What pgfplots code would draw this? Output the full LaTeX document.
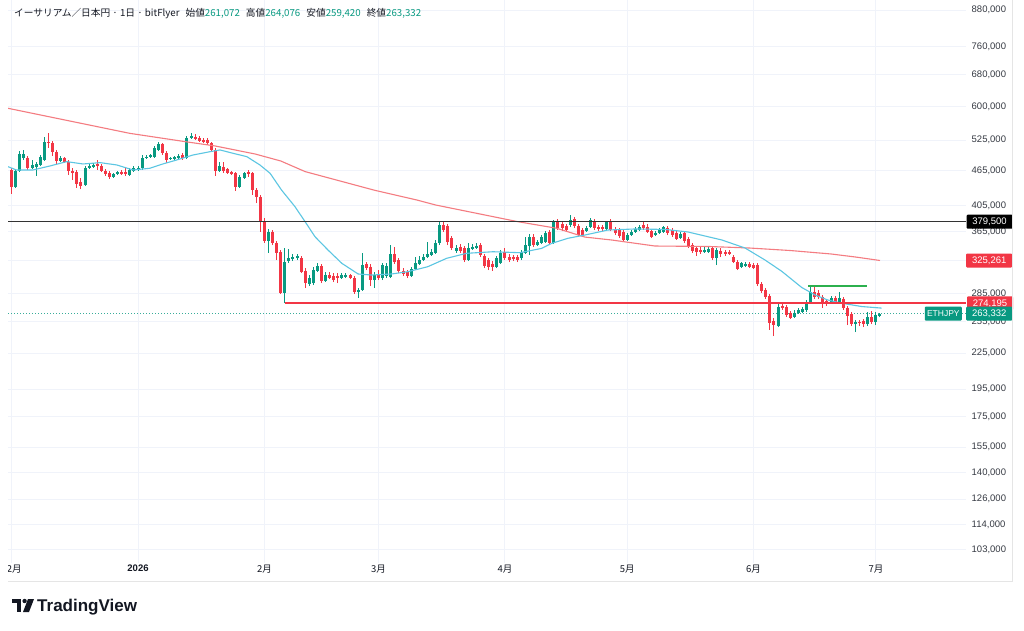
\documentclass[border=0pt]{standalone}
\usepackage{fontspec}
\setmainfont{Liberation Sans}
\newfontfamily\jp{Noto Sans CJK JP}
\usepackage{pgfplots}
\usepackage{pgfplotstable}
\pgfplotsset{compat=1.18}

\definecolor{tvgreen}{HTML}{089981}
\definecolor{tvred}{HTML}{F23645}
\definecolor{tvtext}{HTML}{131722}
\definecolor{tvgrid}{HTML}{F0F3FA}
\definecolor{maslow}{HTML}{F47C81}
\definecolor{mafast}{HTML}{5CC6E2}
\definecolor{lvgreen}{HTML}{2CB04E}
\newcommand\ticksz{\fontsize{9.5}{11}\selectfont}

% daily ETH/JPY candles; d = days from 1 Jan 2026
\pgfplotstableread{
d o h l c
-31 466000 469700 423700 435600
-30 435600 467900 433900 464200
-29 464200 502600 462300 496600
-28 488800 504600 484900 496600
-27 488800 492700 466000 469700
-26 469700 484900 467900 475400
-25 471600 481100 455100 477300
-24 475400 494600 473500 490700
-23 484900 531400 483000 520900
-22 520900 539800 508600 518800
-21 518800 523000 492700 500600
-20 500600 504600 477300 483000
-19 483000 492700 481100 488800
-18 488800 490700 479200 481100
-17 481100 484900 456900 464200
-16 464200 469700 447900 460500
-15 462300 466000 433900 440900
-14 444400 451500 432100 437300
-13 439000 473500 437300 469700
-12 469700 477300 467900 473500
-11 471600 479200 469700 475400
-10 477300 484900 466000 473500
-9 473500 477300 462300 464200
-8 464200 467900 455100 458700
-7 460500 464200 449700 453300
-6 453300 460500 451500 458700
-5 458700 464200 456900 462300
-4 462300 466000 456900 458700
-3 462300 469700 455100 458700
-2 456900 469700 455100 466000
-1 464200 473500 462300 469700
0 466000 473500 464200 469700
1 469700 494600 466000 488800
2 488800 494600 486800 490700
3 490700 496600 488800 494600
4 490700 512700 488800 508600
5 504600 520900 502600 516800
6 516800 518800 494600 498600
7 498600 502600 479200 484900
8 486800 490700 484900 488800
9 486800 492700 484900 489800
10 488800 496600 486800 492700
11 494600 498600 484900 488800
12 488800 533500 486800 529300
13 529300 539800 527200 533500
14 531400 537700 525000 527200
15 529300 533500 520900 523000
16 525000 529300 518800 520900
17 525000 529300 514700 518800
18 518800 520900 500600 504600
19 504600 508600 455100 464200
20 464200 481100 462300 473500
21 471600 481100 460500 464200
22 467900 469700 458700 460500
23 462300 464200 456900 458700
24 460500 462300 428700 435600
25 435600 456900 433900 453300
26 451500 462300 449700 460500
27 462300 466000 453300 458700
28 460500 462300 422000 430400
29 430400 433900 408700 418700
30 418700 422000 364300 379000
31 380500 385100 348700 351500
32 351500 368700 335100 364300
33 364300 367200 345900 348700
34 348700 351500 325900 335100
35 336400 339100 284800 285900
36 285900 341800 274195 323300
37 324600 340500 322000 328500
38 327200 333800 324600 329800
39 328500 333800 325900 330500
40 328500 331200 309500 310700
41 312000 315700 291600 297400
42 296300 307000 293900 303400
43 297400 317000 295100 313200
44 312000 322000 310700 318200
45 318200 320800 297400 299800
46 299800 310700 298600 307000
47 307000 310700 302200 304000
48 305800 309500 298600 301000
49 305800 309500 297400 303400
50 303400 309500 302200 307000
51 304600 309500 303400 307000
52 307000 308300 302200 303400
53 303400 305800 284800 287000
54 287000 291600 280300 289300
55 289300 335100 288200 319500
56 320800 323300 313200 315700
57 317000 320800 293900 301000
58 301000 310700 291600 307000
59 307000 313200 301000 303400
60 303400 322000 301000 319500
61 305800 322000 303400 318200
62 304600 345900 303400 333800
63 333800 343200 320800 323300
64 325900 328500 309500 312000
65 312000 315700 305800 308300
66 310700 313200 303400 305800
67 305800 317000 304600 314500
68 314500 329800 313200 322000
69 320800 331200 319500 325900
70 325900 333800 324600 329800
71 329800 350100 328500 333800
72 332500 340500 331200 336400
73 335100 352900 333800 348700
74 348700 379500 345900 374600
75 374600 379000 364300 367200
76 373100 376000 345900 350100
77 355700 358500 339100 341800
78 337800 345900 335100 341800
79 343200 347300 335100 337800
80 341800 344500 323300 325900
81 325900 348700 324600 341800
82 340500 347300 339100 343200
83 341800 348700 340500 344500
84 345900 348700 329800 332500
85 331200 333800 315700 318200
86 325900 328500 313200 317000
87 320800 324600 312000 317000
88 317000 331200 315700 328500
89 322000 339100 320800 335100
90 336400 341800 325900 328500
91 329800 333800 323300 325900
92 329800 332500 324600 327200
93 329800 332500 323300 325900
94 328500 339100 325900 336400
95 335100 357100 333800 345900
96 344500 361400 332500 357100
97 357100 361400 343200 345900
98 345900 352900 344500 350100
99 348700 359900 347300 357100
100 350100 365700 348700 362900
101 364300 367200 345900 348700
102 348700 382100 347300 379000
103 379000 383500 367200 370100
104 376000 379000 365700 370100
105 373100 376000 364300 367200
106 374600 389700 371600 382100
107 383500 386600 370100 373100
108 373100 376000 357100 359900
109 367200 370100 357100 359900
110 365700 373100 364300 370100
111 371600 385100 370100 382100
112 380500 383500 367200 370100
113 371600 374600 365700 368700
114 371600 374600 365700 368700
115 368700 380500 367200 379000
116 379000 383500 365700 367200
117 368700 371600 359900 362900
118 367200 370100 355700 358500
119 364300 367200 350100 352900
120 352900 362900 351500 359900
121 359900 367200 358500 364300
122 364300 371600 362900 368700
123 367200 374600 365700 371600
124 374600 379000 367200 370100
125 371600 376000 362900 364300
126 365700 368700 355700 357100
127 359900 365700 358500 362900
128 362900 370100 361400 367200
129 364300 373100 362900 371600
130 370100 373100 359900 362900
131 367200 370100 357100 359900
132 362900 365700 352900 354300
133 355700 364300 354300 361400
134 362900 365700 348700 351500
135 354300 357100 341800 344500
136 345900 348700 335100 337800
137 341800 344500 331200 336400
138 339100 343200 333800 336400
139 336400 343200 335100 339100
140 336400 343200 335100 340500
141 341800 344500 325900 328500
142 328500 341800 319500 339100
143 337800 341800 329800 333800
144 336400 339100 331200 333800
145 336400 339100 332500 333800
146 329800 332500 322000 323300
147 323300 325900 313200 314500
148 317000 323300 315700 322000
149 318200 323300 317000 320800
150 320800 323300 315700 317000
151 319500 322000 314500 315700
152 319500 322000 293900 296300
153 296300 298600 285900 288200
154 289300 291600 279200 281400
155 282500 284800 246800 253700
156 255800 258800 240900 251700
157 250700 273700 249700 270400
158 271500 273700 267200 269400
159 270400 272600 259900 261900
160 264100 266200 257800 258800
161 259900 267200 258800 264100
162 264100 269400 263000 267200
163 265600 270400 264100 268300
164 267200 278000 265100 275900
165 274800 293900 273700 287000
166 287000 293900 279200 281400
167 285900 289300 279200 281400
168 281400 283600 269400 274800
169 276900 279200 271500 273700
170 275900 282500 274800 280300
171 280300 282500 274800 275900
172 274800 287000 273700 280300
173 279200 281400 267200 269400
174 269400 271500 251700 260900
175 263000 265100 250700 252700
176 252700 256800 244800 254700
177 254700 256800 250700 253700
178 255800 257800 249700 252700
179 252700 265100 250700 259900
180 259900 266200 252700 254700
181 254700 265100 251700 261900
182 261072 264076 259420 263332
}\ohlc

\tikzset{tag/.style={anchor=west, minimum width=46pt, minimum height=14pt,
  inner sep=0pt, text=white, font=\ticksz, rounded corners=1pt}}

\begin{document}
\begin{tikzpicture}
\fill[white] (0pt,0pt) rectangle (1024pt,630pt);
\path[use as bounding box] (0pt,0pt) rectangle (1024pt,630pt);

\begin{scope}
\clip (8pt,0pt) rectangle (1024pt,630pt);
\begin{axis}[
  at={(8pt,67pt)}, anchor=south west,
  width=958pt, height=563pt, scale only axis,
  xmin=-31.89, xmax=203.1,
  ymode=log, ymin=97800, ymax=915700,
  clip=false,
  axis line style={draw=none},
  tick style={draw=none},
  major tick length=0pt,
  yminorticks=false, xminorticks=false,
  grid=major,
  major grid style={draw=tvgrid, line width=0.9pt},
  ytick={103000,114000,126000,140000,155000,175000,195000,225000,255000,285000,325000,365000,405000,465000,525000,600000,680000,760000,880000},
  yticklabels={{103,000},{114,000},{126,000},{140,000},{155,000},{175,000},{195,000},{225,000},{255,000},{285,000},{325,000},{365,000},{405,000},{465,000},{525,000},{600,000},{680,000},{760,000},{880,000}},
  yticklabel pos=right,
  yticklabel style={anchor=west, inner sep=0pt, xshift=5.5pt, font=\ticksz, text=tvtext!85},
  xtick={-31,0,31,59,90,120,151,181},
  xticklabels={{\jp 12月},{\bfseries 2026},{\jp 2月},{\jp 3月},{\jp 4月},{\jp 5月},{\jp 6月},{\jp 7月}},
  xticklabel style={anchor=north, inner sep=0pt, yshift=-2pt, font=\ticksz, text=tvtext},
]
% last price, dotted
\addplot[tvgreen!80, line width=0.8pt, dash pattern=on 1pt off 2pt, forget plot]
  coordinates {(-31.89,263332) (203.1,263332)};

% candles: wick low-high, body open-close
\pgfplotstablegetrowsof{\ohlc}
\pgfmathtruncatemacro{\lastrow}{\pgfplotsretval-1}
\pgfplotsforeachungrouped \i in {0,...,\lastrow}{%
  \pgfplotstablegetelem{\i}{d}\of\ohlc \let\cd\pgfplotsretval
  \pgfplotstablegetelem{\i}{o}\of\ohlc \let\co\pgfplotsretval
  \pgfplotstablegetelem{\i}{h}\of\ohlc \let\ch\pgfplotsretval
  \pgfplotstablegetelem{\i}{l}\of\ohlc \let\cl\pgfplotsretval
  \pgfplotstablegetelem{\i}{c}\of\ohlc \let\cc\pgfplotsretval
  \ifnum\cc<\co\relax \def\cf{tvred}\else \def\cf{tvgreen}\fi
  \edef\candle{%
    \noexpand\addplot[\cf, line width=1pt, forget plot] coordinates {(\cd,\cl) (\cd,\ch)};
    \noexpand\addplot[\cf, line width=3pt, forget plot] coordinates {(\cd,\co) (\cd,\cc)};
  }\candle
}

% slow moving average
\addplot[maslow, line width=1.1pt, forget plot] coordinates {
(-31.9,595500) (-2,539000) (12,521000) (18.9,512700) (28.7,496600) (35,483000)
(41,463000) (58,430000) (68.4,413600) (73,405500) (93.2,379500) (102.7,369700)
(109.6,357000) (116.3,352800) (126.8,344500) (140,343900) (150,341800)
(160,338400) (170,333800) (176,329800) (182,325261)};

% fast moving average
\addplot[mafast, line width=1.1pt, forget plot] coordinates {
(-31.9,472200) (-29.8,466000) (-25.8,466000) (-21.6,473500) (-17.5,481700)
(-13.5,477300) (-9.3,479800) (-5.2,475400) (-1.2,466000) (2.9,469200)
(6.1,477300) (9.5,484900) (13.5,494600) (17.7,501200) (20.1,504600)
(23.3,498000) (26.7,491300) (29.9,475400) (32.4,459900) (35.2,430400)
(38.5,402800) (41,379400) (43.4,357600) (46.6,339100) (50,321600)
(54,308300) (57.3,307000) (62.2,308300) (66.2,311100) (71.1,317400)
(75.7,328100) (80.6,334700) (87.1,336800) (93.7,335500) (99,341300)
(101.5,348200) (105.5,355300) (109.6,359900) (115.3,367200) (121.9,368700)
(129.3,368000) (134.9,364300) (143.2,352900) (148.9,341800) (153.8,325900)
(157.9,311600) (162.8,292200) (166.1,283600) (169.2,278000) (172.6,274500)
(177.5,270900) (182.4,269200)};

% drawn levels with their price tags
\addplot[black!80, line width=1.1pt, forget plot] coordinates {(-31.89,379500) (203.1,379500)}
  node[pos=1, tag, fill=black] {379,500};
\addplot[draw=tvred, line width=2pt, forget plot] coordinates {(36,274195) (203.1,274195)}
  node[pos=1, tag, fill=tvred] {274,195};
\addplot[lvgreen, line width=2.5pt, forget plot] coordinates {(164.4,293900) (178.8,293900)};
\addplot[draw=none, forget plot] coordinates {(200,325261) (203.1,325261)}
  node[pos=1, tag, fill=tvred] {325,261};
\addplot[draw=none, forget plot] coordinates {(200,263332) (203.1,263332)}
  node[pos=1, tag, fill=tvgreen] {263,332}
  node[pos=1, anchor=east, fill=tvgreen, minimum width=37pt, minimum height=14pt,
    inner sep=0pt, text=white, font=\fontsize{8.5}{10}\selectfont, rounded corners=1pt,
    xshift=-4pt] {ETHJPY};
\end{axis}
\end{scope}

% pane border
\draw[gray!20, line width=0.8pt] (8pt,49pt) -- (1012pt,49pt) -- (1012pt,630pt);

% header
\node[anchor=base west, inner sep=0pt, text=tvtext, font=\jp\fontsize{9.7}{11}\selectfont]
  at (14pt,613pt) {イーサリアム／日本円 · 1日 · bitFlyer\hspace{6pt}始値\textcolor{tvgreen}{261,072}\hspace{6pt}高値\textcolor{tvgreen}{264,076}\hspace{6pt}安値\textcolor{tvgreen}{259,420}\hspace{6pt}終値\textcolor{tvgreen}{263,332}};

% logo
\fill[tvtext] (12pt,31pt) rectangle (21pt,27pt);
\fill[tvtext] (16.5pt,27pt) rectangle (21pt,18pt);
\fill[tvtext] (24.6pt,29pt) circle (2.2pt);
\fill[tvtext] (28pt,31pt) -- (34pt,31pt) -- (29pt,18pt) -- (23pt,18pt) -- cycle;
\node[anchor=base west, inner sep=0pt, text=tvtext, font=\fontsize{17}{17}\selectfont\bfseries]
  at (37pt,19pt) {TradingView};
\end{tikzpicture}
\end{document}
